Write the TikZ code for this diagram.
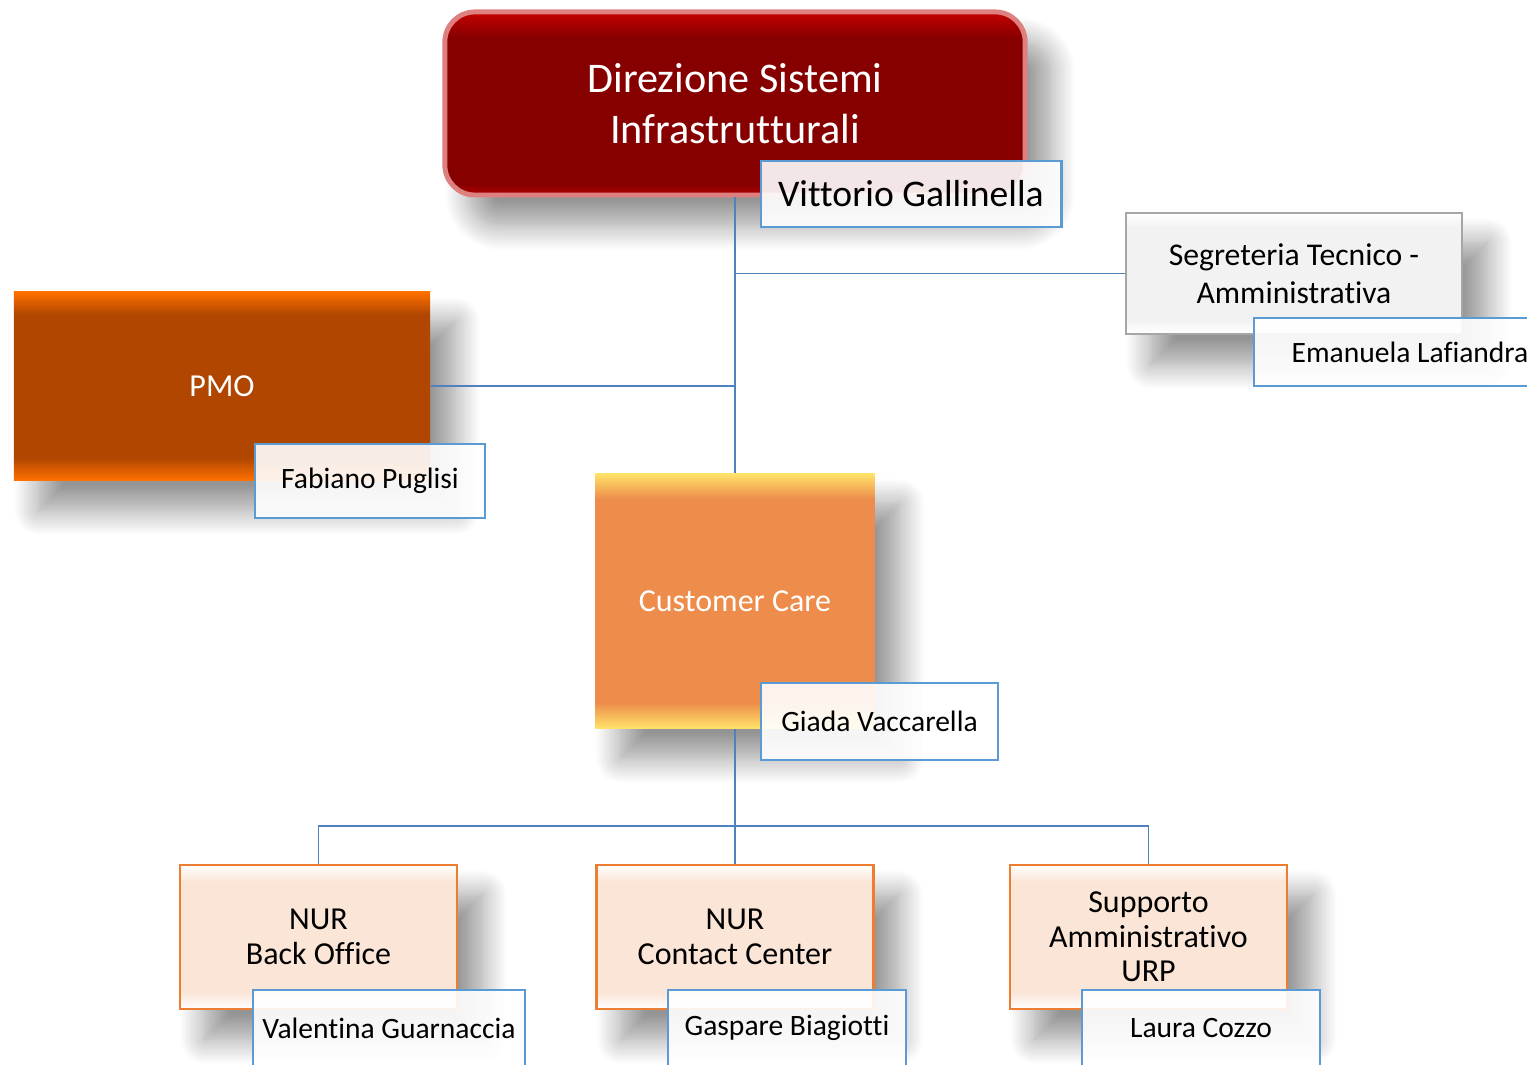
\documentclass[tikz,border=0pt]{standalone}
\usepackage{fontspec}
\setmainfont{Carlito}[Ligatures={NoCommon,NoContextual},RawFeature={-liga;-clig;-calt;-dlig}]
\usetikzlibrary{shadows.blur}

\definecolor{dirred}{RGB}{135,0,0}
\definecolor{dirtop}{RGB}{196,0,0}
\definecolor{dirbot}{RGB}{175,0,0}
\definecolor{dirrim}{RGB}{222,128,128}
\definecolor{pmomain}{RGB}{176,70,0}
\definecolor{pmoedge}{RGB}{255,112,0}
\definecolor{ccmain}{RGB}{237,140,75}
\definecolor{ccedge}{RGB}{255,225,105}
\definecolor{segrmain}{RGB}{242,242,242}
\definecolor{segrline}{RGB}{166,166,166}
\definecolor{unitmain}{RGB}{251,229,214}
\definecolor{unitline}{RGB}{237,125,49}
\definecolor{nameline}{RGB}{91,155,213}
\definecolor{linkblue}{RGB}{79,129,189}

\pgfdeclareverticalshading{dirbevel}{100bp}{color(0bp)=(dirbot); color(25bp)=(dirbot); color(28bp)=(dirred); color(68bp)=(dirred); color(75bp)=(dirtop); color(100bp)=(dirtop)}
\pgfdeclareverticalshading{pmobevel}{100bp}{color(0bp)=(pmoedge); color(25bp)=(pmoedge); color(31bp)=(pmomain); color(69bp)=(pmomain); color(75bp)=(pmoedge); color(100bp)=(pmoedge)}
\pgfdeclareverticalshading{ccbevel}{100bp}{color(0bp)=(ccedge); color(25bp)=(ccedge); color(30bp)=(ccmain); color(70bp)=(ccmain); color(75bp)=(ccedge); color(100bp)=(ccedge)}
\pgfdeclareverticalshading{segrbevel}{100bp}{color(0bp)=(white); color(25bp)=(white); color(31bp)=(segrmain); color(69bp)=(segrmain); color(75bp)=(white); color(100bp)=(white)}
\pgfdeclareverticalshading{unitbevel}{100bp}{color(0bp)=(white); color(25bp)=(white); color(31bp)=(unitmain); color(69bp)=(unitmain); color(75bp)=(white); color(100bp)=(white)}

\begin{document}
\begin{tikzpicture}[x=0.01cm,y=-0.01cm,
  soft/.style={blur shadow={shadow xshift=0.25cm,shadow yshift=-0.3cm,shadow blur radius=0.25cm,shadow blur steps=16,shadow opacity=42}},
  box/.style={rectangle,inner sep=0pt,align=center,shade,soft},
  unit/.style={box,shading=unitbevel,draw=unitline,line width=0.7pt,minimum width=2.77cm,minimum height=1.44cm,font=\fontsize{9.1}{9.8}\selectfont},
  person/.style={rectangle,inner sep=0pt,draw=nameline,line width=0.8pt,fill=white,fill opacity=0.9,text opacity=1,font=\fontsize{8.4}{10}\selectfont},
  link/.style={draw=linkblue,line width=0.45pt}]

  \useasboundingbox (0,0) rectangle (1527,1065);

  \node [box,shading=dirbevel,rounded corners=0.3cm,draw=dirrim,line width=1.4pt,minimum width=5.8cm,minimum height=1.83cm,text=white,font=\fontsize{12}{14.5}\selectfont] (dir) at (735,103.5) {Direzione Sistemi\\Infrastrutturali};
  \node [person,minimum width=3cm,minimum height=0.66cm,font=\fontsize{10.7}{12}\selectfont] (dirname) at (911,194) {Vittorio Gallinella};

  \node [box,shading=segrbevel,draw=segrline,line width=0.6pt,minimum width=3.36cm,minimum height=1.21cm,font=\fontsize{9}{10.8}\selectfont] (segr) at (1294,273.5) {Segreteria Tecnico -\\Amministrativa};
  \node [person,minimum width=3.12cm,minimum height=0.68cm] (segrname) at (1410,352) {Emanuela Lafiandra};

  \node [box,shading=pmobevel,minimum width=4.16cm,minimum height=1.88cm,text=white,font=\fontsize{9.1}{10.5}\selectfont] (pmo) at (222,386) {PMO};
  \node [person,minimum width=2.3cm,minimum height=0.74cm] (pmoname) at (370,481) {Fabiano Puglisi};

  \node [box,shading=ccbevel,minimum width=2.79cm,minimum height=2.54cm,text=white,font=\fontsize{9.1}{10.5}\selectfont] (cc) at (735,601) {Customer Care};
  \node [person,minimum width=2.37cm,minimum height=0.77cm] (ccname) at (879.5,721.5) {Giada Vaccarella};

  \node [unit] (bo) at (318.5,937) {NUR\\Back Office};
  \node [person,minimum width=2.72cm,minimum height=0.76cm] (boname) at (389,1028) {Valentina Guarnaccia};
  \node [unit] (ctc) at (735,937) {NUR\\Contact Center};
  \node [person,minimum width=2.38cm,minimum height=0.76cm] (ctcname) at (787,1028) {Gaspare Biagiotti};
  \node [unit] (urp) at (1148.5,937) {Supporto\\Amministrativo\\URP};
  \node [person,minimum width=2.38cm,minimum height=0.76cm] (urpname) at (1201,1028) {Laura Cozzo};

  \coordinate (bus) at (735,826);
  \draw [link] (dir.south) -- (cc.north);
  \draw [link] (segr.west) -- (segr.west -| dir.south);
  \draw [link] (pmo.east) -- (pmo.east -| dir.south);
  \draw [link] (cc.south) -- (ctc.north);
  \draw [link] (bo.north) |- (bus) -| (urp.north);

\end{tikzpicture}
\end{document}
